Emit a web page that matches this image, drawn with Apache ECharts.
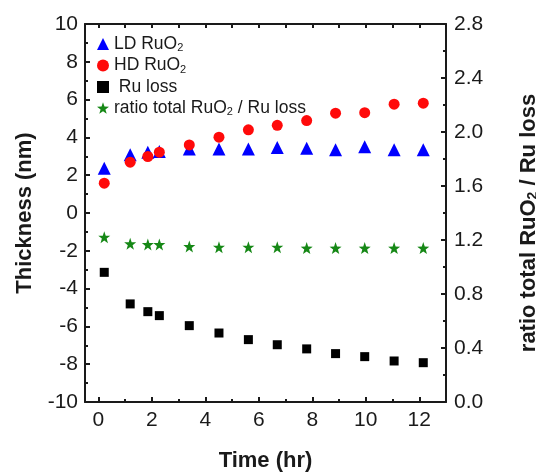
<!DOCTYPE html>
<html>
<head>
<meta charset="utf-8">
<script src="https://cdn.jsdelivr.net/npm/echarts@6/dist/echarts.min.js"></script>
<style>
  html, body { margin: 0; padding: 0; background: #fff; }
  #chart { width: 536px; height: 474px; }
</style>
</head>
<body>
<div id="chart"></div>
<script>
// time points (hr)
const timeHr = [0.22, 1.19, 1.85, 2.28, 3.4, 4.51, 5.61, 6.69, 7.79, 8.87, 9.96, 11.06, 12.15];
// thickness (nm)
const ldRuO2 = [2.37, 3.08, 3.22, 3.25, 3.38, 3.38, 3.38, 3.46, 3.43, 3.34, 3.51, 3.34, 3.34];
const hdRuO2 = [1.58, 2.69, 2.99, 3.22, 3.6, 4.01, 4.4, 4.64, 4.89, 5.28, 5.31, 5.76, 5.81];
const ruLoss = [-3.14, -4.81, -5.22, -5.43, -5.96, -6.35, -6.7, -6.97, -7.19, -7.44, -7.6, -7.83, -7.92];
// ratio total RuO2 / Ru loss (right axis)
const ratio = [1.221, 1.172, 1.167, 1.167, 1.152, 1.147, 1.147, 1.147, 1.14, 1.14, 1.14, 1.14, 1.14];

const xMajorTicks = [0, 2, 4, 6, 8, 10, 12];
const xMinorTicks = [1, 3, 5, 7, 9, 11];
const xTopTicks = [0, 1, 2, 3, 4, 5, 6, 7, 8, 9, 10, 11, 12];

const FONT = "'Liberation Sans', Arial, sans-serif";
const INK = "#1a1a1a";
const STAR = "path://M0,-10 L2.35,-3.24 L9.51,-3.09 L3.8,1.24 L5.88,8.09 L0,4 L-5.88,8.09 L-3.8,1.24 L-9.51,-3.09 L-2.35,-3.24 Z";

const pair = (ys) => timeHr.map((t, i) => [t, ys[i]]);

const legendNames = {
    "LD RuO2": "{t|LD RuO}{s|2}",
    "HD RuO2": "{t|HD RuO}{s|2}",
    "Ru loss": "{t| Ru loss}",
    "ratio total RuO2 / Ru loss": "{t|ratio total RuO}{s|2}{t| / Ru loss}",
};

const chart = echarts.init(document.getElementById("chart"));

const baseX = {
    type: "value",
    min: -0.5,
    max: 13,
    splitLine: { show: false },
};
const tickStyle = { color: INK, width: 2 };
const titleStyle = { fontFamily: FONT, fontSize: 22, fontWeight: "bold", color: INK };
const labelStyle = { fontFamily: FONT, fontSize: 21, color: INK };

chart.setOption({
    animation: false,
    backgroundColor: "#fff",
    grid: { left: 85, right: 90, top: 24, bottom: 72, outerBoundsMode: "none", containLabel: false },
    legend: {
        orient: "vertical",
        left: 92,
        top: 30,
        itemGap: 3,
        itemWidth: 12,
        itemHeight: 12,
        data: [
            { name: "LD RuO2", icon: "triangle" },
            { name: "HD RuO2", icon: "circle" },
            { name: "Ru loss", icon: "rect" },
            { name: "ratio total RuO2 / Ru loss", icon: STAR },
        ],
        formatter: (name) => legendNames[name],
        textStyle: {
            fontFamily: FONT,
            color: INK,
            rich: {
                t: { fontSize: 17.5, fontFamily: FONT, color: INK },
                s: { fontSize: 11, fontFamily: FONT, color: INK, verticalAlign: "bottom", padding: [8, 0, 0, 0] },
            },
        },
    },
    xAxis: [
        {
            ...baseX,
            position: "bottom",
            name: "Time (hr)",
            nameLocation: "middle",
            nameGap: 48,
            nameTextStyle: titleStyle,
            axisLine: { show: true, onZero: false, lineStyle: tickStyle },
            axisTick: { show: true, inside: true, length: 5, customValues: xMajorTicks, lineStyle: tickStyle },
            axisLabel: { ...labelStyle, customValues: xMajorTicks, margin: 8 },
        },
        {
            ...baseX,
            position: "bottom",
            axisLine: { show: false, onZero: false },
            axisTick: { show: true, inside: true, length: 3, customValues: xMinorTicks, lineStyle: tickStyle },
            axisLabel: { show: false },
        },
        {
            ...baseX,
            position: "top",
            axisLine: { show: true, onZero: false, lineStyle: tickStyle },
            axisTick: { show: true, inside: true, length: 4, customValues: xTopTicks, lineStyle: tickStyle },
            axisLabel: { show: false },
        },
    ],
    yAxis: [
        {
            type: "value",
            position: "left",
            min: -10,
            max: 10,
            interval: 2,
            name: "Thickness (nm)",
            nameLocation: "middle",
            nameRotate: 90,
            nameGap: 49,
            nameTextStyle: titleStyle,
            splitLine: { show: false },
            axisLine: { show: true, onZero: false, lineStyle: tickStyle },
            axisTick: { show: true, inside: true, length: 5, lineStyle: tickStyle },
            minorTick: { show: true, splitNumber: 2, length: 3, lineStyle: tickStyle },
            axisLabel: { ...labelStyle, margin: 7 },
        },
        {
            type: "value",
            position: "right",
            min: 0,
            max: 2.8,
            interval: 0.4,
            name: "{t|ratio total RuO}{s|2}{t| / Ru loss}",
            nameLocation: "middle",
            nameRotate: 90,
            nameGap: 71,
            nameTextStyle: {
                ...titleStyle,
                padding: [0, 20, 0, 0],
                rich: {
                    t: titleStyle,
                    s: { ...titleStyle, fontSize: 14, verticalAlign: "bottom", padding: [9, 0, 0, 0] },
                },
            },
            splitLine: { show: false },
            axisLine: { show: true, onZero: false, lineStyle: tickStyle },
            axisTick: { show: true, inside: true, length: 5, lineStyle: tickStyle },
            minorTick: { show: true, splitNumber: 2, length: 3, lineStyle: tickStyle },
            axisLabel: { ...labelStyle, margin: 8, formatter: (v) => v.toFixed(1) },
        },
    ],
    series: [
        {
            name: "LD RuO2",
            type: "scatter",
            symbol: "triangle",
            symbolSize: 13,
            itemStyle: { color: "#0000ff", opacity: 1 },
            data: pair(ldRuO2),
        },
        {
            name: "HD RuO2",
            type: "scatter",
            symbol: "circle",
            symbolSize: 11,
            itemStyle: { color: "#ff0a0a", opacity: 1 },
            data: pair(hdRuO2),
        },
        {
            name: "Ru loss",
            type: "scatter",
            symbol: "rect",
            symbolSize: 9,
            itemStyle: { color: "#000000", opacity: 1 },
            data: pair(ruLoss),
        },
        {
            name: "ratio total RuO2 / Ru loss",
            type: "scatter",
            yAxisIndex: 1,
            symbol: STAR,
            symbolSize: 12,
            itemStyle: { color: "#168816", opacity: 1 },
            data: pair(ratio),
        },
    ],
});
</script>
</body>
</html>
